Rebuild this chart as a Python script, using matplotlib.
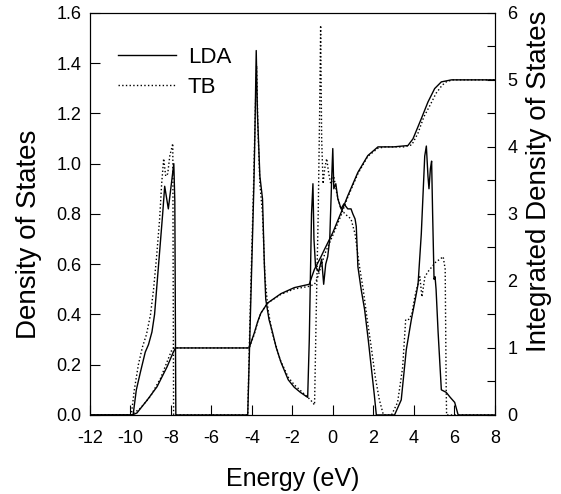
import matplotlib
matplotlib.use("Agg")
import matplotlib.pyplot as plt
import numpy as np

plt.rcParams['font.family'] = ['Liberation Sans', 'DejaVu Sans']

# Density of states, LDA (solid)
lda_e = [-12, -9.86, -9.7, -9.5, -9.26, -9.1, -8.93, -8.8, -8.7, -8.6, -8.5, -8.4, -8.3, -8.2, -8.12,
         -8.0, -7.85, -7.8, -7.75, -4.2, -4.1, -4.0, -3.9, -3.85, -3.78, -3.72, -3.6, -3.47, -3.38,
         -3.31, -3.15, -2.98, -2.8, -2.56, -2.2, -1.9, -1.6, -1.24, -1.16, -1.05, -0.98, -0.93, -0.85,
         -0.7, -0.55, -0.45, -0.35, -0.25, -0.15, -0.05, 0.0, 0.05, 0.15, 0.25, 0.41, 0.55, 0.74, 0.9,
         0.99, 1.1, 1.16, 1.24, 1.4, 1.57, 1.75, 1.9, 2.05, 2.15, 3.05, 3.38, 3.63, 3.88, 4.05, 4.21,
         4.37, 4.54, 4.62, 4.7, 4.75, 4.82, 4.88, 4.93, 5.0, 5.05, 5.1, 5.2, 5.36, 5.6, 5.8, 6.02, 6.19, 8]
lda_dos = [0, 0, 0.1, 0.17, 0.25, 0.28, 0.33, 0.4, 0.5, 0.6, 0.7, 0.8, 0.91, 0.86, 0.82,
           0.9, 1.0, 0.85, 0.0, 0, 0.3, 0.6, 0.9, 1.1, 1.45, 1.2, 0.95, 0.86, 0.6,
           0.46, 0.38, 0.33, 0.27, 0.21, 0.14, 0.11, 0.09, 0.07, 0.3, 0.8, 0.92, 0.7, 0.59,
           0.57, 0.62, 0.52, 0.6, 0.63, 0.7, 0.95, 1.06, 0.9, 0.92, 0.86, 0.82, 0.84, 0.82, 0.82,
           0.8, 0.78, 0.75, 0.59, 0.5, 0.42, 0.3, 0.19, 0.08, 0, 0, 0.06, 0.26, 0.38, 0.45, 0.52,
           0.72, 1.03, 1.07, 0.95, 0.9, 0.98, 1.01, 0.8, 0.54, 0.55, 0.5, 0.33, 0.1, 0.09, 0.07, 0.05, 0, 0]

# Density of states, TB (dotted)
tb_e = [-12, -9.95, -9.8, -9.6, -9.4, -9.2, -9.0, -8.85, -8.7, -8.55, -8.45, -8.35, -8.25, -8.15,
        -8.05, -7.9, -7.86, -4.2, -4.1, -4.0, -3.9, -3.83, -3.76, -3.7, -3.6, -3.47, -3.35, -3.2,
        -3.0, -2.6, -2.2, -1.9, -1.5, -1.1, -0.9, -0.82, -0.72, -0.65, -0.6, -0.55, -0.48, -0.4,
        -0.3, -0.2, -0.1, 0.05, 0.2, 0.4, 0.6, 0.9, 1.1, 1.3, 1.5, 1.7, 1.9, 2.1, 2.3, 2.5, 2.9,
        3.2, 3.45, 3.6, 3.75, 3.9, 4.05, 4.2, 4.3, 4.4, 4.55, 4.7, 4.9, 5.1, 5.3, 5.45, 5.55, 5.6,
        5.62, 8]
tb_dos = [0, 0, 0.1, 0.2, 0.27, 0.32, 0.4, 0.5, 0.63, 0.78, 0.92, 1.02, 0.95, 0.96,
          1.03, 1.08, 0.0, 0, 0.35, 0.65, 0.95, 1.2, 1.39, 1.15, 0.92, 0.8, 0.55, 0.42,
          0.33, 0.22, 0.15, 0.12, 0.09, 0.06, 0.04, 0.4, 0.8, 1.2, 1.55, 1.1, 0.92, 0.98,
          1.02, 0.96, 0.92, 0.95, 0.88, 0.82, 0.8, 0.78, 0.72, 0.6, 0.5, 0.38, 0.27, 0.15, 0.06, 0, 0,
          0.05, 0.19, 0.38, 0.38, 0.4, 0.47, 0.52, 0.55, 0.47, 0.55, 0.57, 0.59, 0.61, 0.62, 0.63, 0.58, 0.1,
          0, 0]

# Integrated density of states (right axis)
lda_int_e = [-12, -9.9, -9.67, -9.17, -8.68, -8.18, -7.9, -7.77, -4.13, -3.88, -3.7, -3.55, -3.22,
             -2.56, -1.9, -1.16, -1.05, -0.91, -0.6, -0.41, 0, 0.41, 0.74, 1.24, 1.73, 2.23, 3.0,
             3.71, 3.96, 4.37, 4.7, 5.03, 5.36, 5.86, 8]
lda_int = [0, 0, 0.03, 0.22, 0.42, 0.72, 0.92, 1.0, 1.0, 1.22, 1.4, 1.52, 1.67,
           1.81, 1.9, 1.95, 2.05, 2.17, 2.35, 2.47, 2.72, 3.02, 3.27, 3.62, 3.87, 4.0, 4.0,
           4.02, 4.12, 4.42, 4.67, 4.87, 4.97, 5.0, 5.0]
tb_int_e = [-12, -9.95, -9.5, -9.0, -8.5, -8.2, -7.95, -7.86, -4.13, -3.88, -3.7, -3.55, -3.22,
            -2.56, -1.9, -1.16, -0.9, -0.75, -0.6, -0.4, 0, 0.41, 0.74, 1.24, 1.73, 2.23, 2.6,
            3.5, 3.9, 4.2, 4.5, 4.8, 5.1, 5.4, 5.6, 5.9, 8]
tb_int = [0, 0, 0.1, 0.28, 0.55, 0.78, 0.97, 1.0, 1.0, 1.2, 1.4, 1.52, 1.67,
          1.8, 1.88, 1.92, 1.95, 2.05, 2.2, 2.4, 2.68, 2.98, 3.25, 3.6, 3.86, 3.98, 4.0,
          4.0, 4.03, 4.2, 4.45, 4.62, 4.8, 4.92, 4.97, 5.0, 5.0]

fig = plt.figure(figsize=(5.61, 4.94), dpi=100)
ax = fig.add_axes([0.160, 0.160, 0.722, 0.814])

ax.plot(lda_e, lda_dos, color='black', lw=1.0, label='LDA')
ax.plot(tb_e, tb_dos, color='black', lw=1.0, ls=':', label='TB')

ax.set_xlim(-12, 8)
ax.set_ylim(0, 1.6)
ax.set_xticks(np.arange(-12, 9, 2))
ax.set_yticks(np.arange(0, 1.61, 0.2))
ax.set_xticklabels([str(v) for v in range(-12, 9, 2)])
ax.set_yticklabels([f"{v:.1f}" for v in np.arange(0, 1.61, 0.2)])
ax.tick_params(direction='in', labelsize=13, length=7.5, width=0.8, top=False, right=False)
ax.tick_params(axis='x', pad=11)
ax.tick_params(axis='y', pad=6)
ax.set_xlabel('Energy (eV)', fontsize=18, labelpad=14)
ax.set_ylabel('Density of States', fontsize=20)
ax.yaxis.set_label_coords(-0.118, 0.45)

ax2 = ax.twinx()
ax2.plot(lda_int_e, lda_int, color='black', lw=1.0)
ax2.plot(tb_int_e, tb_int, color='black', lw=1.0, ls=':')
ax2.set_ylim(0, 6)
ax2.set_yticks(range(0, 7))
ax2.set_yticks(np.arange(0.5, 6, 1.0), minor=True)
ax2.tick_params(direction='in', labelsize=13, length=6, width=0.8, pad=9)
ax2.tick_params(which='minor', direction='in', length=6, width=0.8)
ax2.set_ylabel('Integrated Density of States', fontsize=20)
ax2.yaxis.set_label_coords(1.078, 0.58)

leg = ax.legend(loc='upper left', bbox_to_anchor=(0.02, 0.965), frameon=False, fontsize=16,
                handlelength=2.6, handletextpad=0.55, labelspacing=0.4)

for a in (ax, ax2):
    for s in a.spines.values():
        s.set_linewidth(0.8)

fig.savefig('out.png', dpi=100)
